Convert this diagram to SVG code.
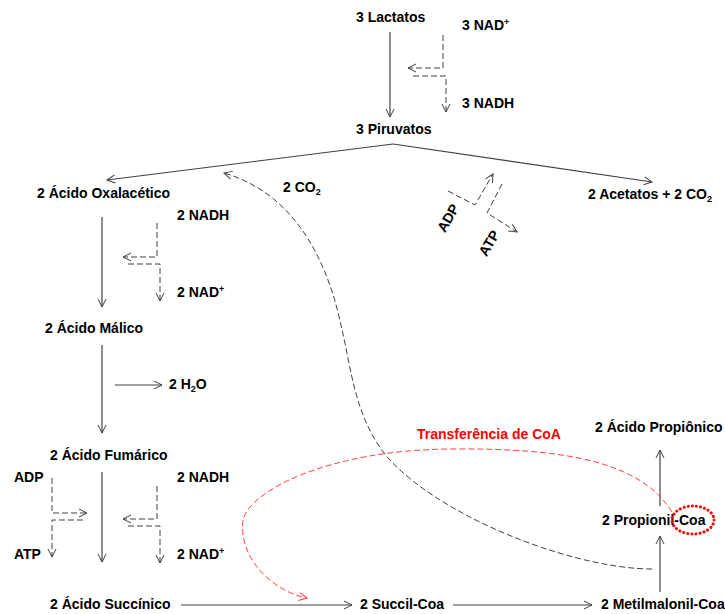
<svg xmlns="http://www.w3.org/2000/svg" width="725" height="614" viewBox="0 0 725 614">
<defs>
<marker id="ah" viewBox="0 0 10 10" refX="9" refY="5" markerWidth="10" markerHeight="10" markerUnits="userSpaceOnUse" orient="auto">
<polyline points="1,1 9,5 1,9" fill="none" stroke="#404040" stroke-width="1"/>
</marker>
<marker id="ahr" viewBox="0 0 10 10" refX="9" refY="5" markerWidth="10" markerHeight="10" markerUnits="userSpaceOnUse" orient="auto">
<polyline points="1,1 9,5 1,9" fill="none" stroke="#ff4040" stroke-width="1"/>
</marker>
<style>
text{font-family:"Liberation Sans",Arial,sans-serif;font-size:14px;font-weight:bold;fill:#000}
.sm{font-size:9px}
.s{fill:none;stroke:#404040;stroke-width:1.2}
.d{fill:none;stroke:#404040;stroke-width:1;stroke-dasharray:6,3}
.red{fill:#ff0000}
</style>
</defs>
<rect width="725" height="614" fill="#fff"/>
<g id="connectors">
<line class="s" x1="390" y1="32" x2="390" y2="117" marker-end="url(#ah)"/>
<polyline class="d" points="443,35 443,68 408,68" marker-end="url(#ah)"/>
<polyline class="d" points="413,76 446,76 446,112" marker-end="url(#ah)"/>
<polyline class="s" points="393,144 107,180" marker-end="url(#ah)"/>
<polyline class="s" points="393,144 652,182" marker-end="url(#ah)"/>
<polyline class="d" points="448,191 475,205 493,174" marker-end="url(#ah)"/>
<polyline class="d" points="502,184 487,213 517,232" marker-end="url(#ah)"/>
<line class="s" x1="102" y1="217" x2="102" y2="307" marker-end="url(#ah)"/>
<polyline class="d" points="157,223 157,257 123,257" marker-end="url(#ah)"/>
<polyline class="d" points="128,264 160,264 160,301" marker-end="url(#ah)"/>
<line class="s" x1="102" y1="345" x2="102" y2="433" marker-end="url(#ah)"/>
<line class="s" x1="115" y1="385" x2="162" y2="385" marker-end="url(#ah)"/>
<line class="s" x1="102" y1="472" x2="102" y2="562" marker-end="url(#ah)"/>
<polyline class="d" points="52,478 52,513 87,513" marker-end="url(#ah)"/>
<polyline class="d" points="83,520 52,520 52,557" marker-end="url(#ah)"/>
<polyline class="d" points="157,486 157,519 123,519" marker-end="url(#ah)"/>
<polyline class="d" points="128,526 160,526 160,563" marker-end="url(#ah)"/>
<line class="s" x1="181" y1="605" x2="352" y2="605" marker-end="url(#ah)"/>
<line class="s" x1="453" y1="605" x2="592" y2="605" marker-end="url(#ah)"/>
<line class="s" x1="660" y1="592" x2="660" y2="536" marker-end="url(#ah)"/>
<line class="s" x1="660" y1="506" x2="660" y2="450" marker-end="url(#ah)"/>
<path class="d" d="M652,569 C580,569 460,525 400,470 C355,430 352,370 342,330 C330,270 300,195 224,173" marker-end="url(#ah)"/>
<path fill="none" stroke="#ff4040" stroke-width="1" stroke-dasharray="6,3" d="M672,512 C640,460 560,448 450,449 C330,450 250,490 243,520 C238,560 275,592 307,598" marker-end="url(#ahr)"/>
</g>
<g id="n-lactatos"><text x="356" y="22">3 Lactatos</text></g>
<g id="n-nad3"><text x="462" y="30">3 NAD<tspan class="sm" dy="-5">+</tspan></text></g>
<g id="n-nadh3"><text x="462" y="108">3 NADH</text></g>
<g id="n-piruvatos"><text x="356" y="134">3 Piruvatos</text></g>
<g id="n-oxal"><text x="37" y="198">2 Ácido Oxalacético</text></g>
<g id="n-co2"><text x="283" y="192">2 CO<tspan class="sm" dy="3">2</tspan></text></g>
<g id="n-acetatos"><text x="588" y="199">2 Acetatos + 2 CO<tspan class="sm" dy="3">2</tspan></text></g>
<g id="n-adp1"><text transform="translate(448,218) rotate(-60)" text-anchor="middle" dy="5">ADP</text></g>
<g id="n-atp1"><text transform="translate(489,243) rotate(-60)" text-anchor="middle" dy="5">ATP</text></g>
<g id="n-nadh2a"><text x="177" y="220">2 NADH</text></g>
<g id="n-nad2a"><text x="177" y="297">2 NAD<tspan class="sm" dy="-5">+</tspan></text></g>
<g id="n-malico"><text x="45" y="333">2 Ácido Málico</text></g>
<g id="n-h2o"><text x="169" y="389">2 H<tspan class="sm" dy="3">2</tspan><tspan dy="-3">O</tspan></text></g>
<g id="n-fumarico"><text x="50" y="460">2 Ácido Fumárico</text></g>
<g id="n-adp2"><text x="14" y="482">ADP</text></g>
<g id="n-atp2"><text x="14" y="559">ATP</text></g>
<g id="n-nadh2b"><text x="177" y="482">2 NADH</text></g>
<g id="n-nad2b"><text x="177" y="559">2 NAD<tspan class="sm" dy="-5">+</tspan></text></g>
<g id="n-succinico"><text x="50" y="609">2 Ácido Succínico</text></g>
<g id="n-succil"><text x="360" y="609">2 Succil-Coa</text></g>
<g id="n-metil"><text x="601" y="609">2 Metilmalonil-Coa</text></g>
<g id="n-propionil"><text x="602" y="525">2 Propionil-Coa</text>
<ellipse cx="693" cy="520" rx="21" ry="14" fill="none" stroke="#ff0000" stroke-width="3" stroke-dasharray="0.1,4" stroke-linecap="round"/></g>
<g id="n-propionico"><text x="595" y="432">2 Ácido Propiônico</text></g>
<g id="n-transf"><text class="red" x="417" y="439">Transferência de CoA</text></g>
</svg>
